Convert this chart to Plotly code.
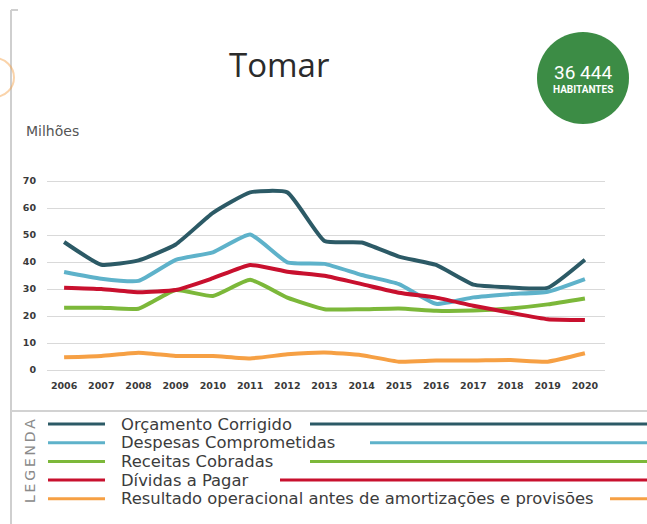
import plotly.graph_objects as go

# Municipal finance series, millions of euros
years = list(range(2006, 2021))
series_names = [
    "Orçamento Corrigido",
    "Despesas Comprometidas",
    "Receitas Cobradas",
    "Dívidas a Pagar",
    "Resultado operacional antes de amortizações e provisões",
]
orcamento_corrigido = [47.4, 39.0, 40.6, 46.5, 58.2, 65.8, 65.8, 47.8, 47.2, 42.0, 38.9, 31.6, 30.6, 30.4, 40.8]
despesas_comprometidas = [36.3, 33.8, 33.0, 40.8, 43.6, 50.2, 39.9, 39.3, 35.2, 31.8, 24.5, 26.9, 28.1, 29.0, 33.7]
receitas_cobradas = [23.1, 23.1, 22.7, 29.6, 27.4, 33.4, 26.8, 22.5, 22.5, 22.8, 21.9, 22.0, 22.8, 24.3, 26.5]
dividas_a_pagar = [30.5, 30.0, 28.8, 29.6, 34.0, 38.9, 36.4, 34.9, 31.8, 28.6, 26.8, 23.8, 21.2, 18.8, 18.5]
resultado_operacional = [4.7, 5.2, 6.4, 5.2, 5.2, 4.3, 5.8, 6.5, 5.5, 3.1, 3.5, 3.5, 3.7, 3.1, 6.2]
y_ticks = [0, 10, 20, 30, 40, 50, 60, 70]

title_text = "Tomar"
population_text = "36 444"
population_label = "HABITANTES"
unit_text = "Milhões"
legend_title = "\u2009".join("LEGENDA")

colors = ["#2c5a66", "#5eb2ca", "#7cb83a", "#c8102e", "#f6a044"]
values = [orcamento_corrigido, despesas_comprometidas, receitas_cobradas,
          dividas_a_pagar, resultado_operacional]

W, H = 647, 524


def px(x):
    return x / W


def py(y):
    return 1 - y / H


fig = go.Figure()
for name, vals, col in zip(series_names, values, colors):
    fig.add_trace(go.Scatter(
        x=years, y=vals, name=name, mode="lines",
        line=dict(color=col, width=4, shape="spline", smoothing=0.45),
        showlegend=False,
    ))

shapes = []
annotations = []

# frame: left border, top corner tick, separator above the legend
shapes.append(dict(type="line", xref="paper", yref="paper",
                   x0=px(11), x1=px(11), y0=py(10), y1=py(524),
                   line=dict(color="#cfcfcf", width=2)))
shapes.append(dict(type="line", xref="paper", yref="paper",
                   x0=px(11), x1=px(18), y0=py(10), y1=py(10),
                   line=dict(color="#cfcfcf", width=2)))
shapes.append(dict(type="line", xref="paper", yref="paper",
                   x0=px(11), x1=px(647), y0=py(411), y1=py(411),
                   line=dict(color="#d2d2d2", width=2)))

# orange badge peeking from the left edge
shapes.append(dict(type="circle", xref="paper", yref="paper",
                   x0=px(-25), x1=px(14), y0=py(97), y1=py(58),
                   line=dict(color="#f6a044", width=2), opacity=0.45))

# population badge
shapes.append(dict(type="circle", xref="paper", yref="paper",
                   x0=px(537), x1=px(629), y0=py(124), y1=py(32),
                   fillcolor="#3c8c45", line=dict(width=0)))
annotations.append(dict(text=population_text, xref="paper", yref="paper",
                        x=px(583), y=py(72), showarrow=False,
                        xanchor="center", yanchor="middle",
                        font=dict(family="Roboto", size=19, color="white")))
annotations.append(dict(text="<b>" + population_label + "</b>", xref="paper", yref="paper",
                        x=px(583), y=py(89), showarrow=False,
                        xanchor="center", yanchor="middle",
                        font=dict(family="Roboto", size=10, color="white")))

# title and unit label
annotations.append(dict(text=title_text, xref="paper", yref="paper",
                        x=px(279), y=py(65), showarrow=False,
                        xanchor="center", yanchor="middle",
                        font=dict(family="Open Sans", size=33, color="#2b2b2b")))
annotations.append(dict(text=unit_text, xref="paper", yref="paper",
                        x=px(24), y=py(131), showarrow=False,
                        xanchor="left", yanchor="middle",
                        font=dict(family="DejaVu Sans", size=14, color="#555555")))

# custom legend: short swatch, name, trailing rule
legend_rows = [424, 442.7, 461.4, 480.1, 498.8]
rule_starts = [310, 370, 310, 280, 610]
for name, col, yy, xs in zip(series_names, colors, legend_rows, rule_starts):
    shapes.append(dict(type="line", xref="paper", yref="paper",
                       x0=px(48), x1=px(105), y0=py(yy), y1=py(yy),
                       line=dict(color=col, width=3)))
    shapes.append(dict(type="line", xref="paper", yref="paper",
                       x0=px(xs), x1=px(647), y0=py(yy), y1=py(yy),
                       line=dict(color=col, width=3)))
    annotations.append(dict(text=name, xref="paper", yref="paper",
                            x=px(119), y=py(yy), showarrow=False,
                            xanchor="left", yanchor="middle",
                            font=dict(family="DejaVu Sans", size=16.4, color="#3c3c3c")))

annotations.append(dict(text=legend_title, xref="paper", yref="paper",
                        x=px(30), y=py(461), showarrow=False, textangle=-90,
                        xanchor="center", yanchor="middle",
                        font=dict(family="DejaVu Sans", size=14, color="#8a8a8a")))

fig.update_layout(
    width=W, height=H, autosize=False,
    margin=dict(l=0, r=0, t=0, b=0),
    paper_bgcolor="white", plot_bgcolor="white",
    shapes=shapes, annotations=annotations,
    xaxis=dict(domain=[px(47), px(605)], range=[2005.54, 2020.54],
               tickvals=years, ticktext=[str(y) for y in years],
               showgrid=False, zeroline=False, showline=False, ticks="",
               tickfont=dict(family="DejaVu Sans", size=9.5, color="#3a3a3a", weight="bold")),
    yaxis=dict(domain=[py(378), py(176)], range=[-2.96, 71.85],
               tickvals=y_ticks, showgrid=True, gridcolor="#d9d9d9", gridwidth=1,
               zeroline=False, showline=False, ticks="",
               ticklabelstandoff=10,
               tickfont=dict(family="DejaVu Sans", size=9.5, color="#3a3a3a", weight="bold")),
)

fig.write_html("out.html")
